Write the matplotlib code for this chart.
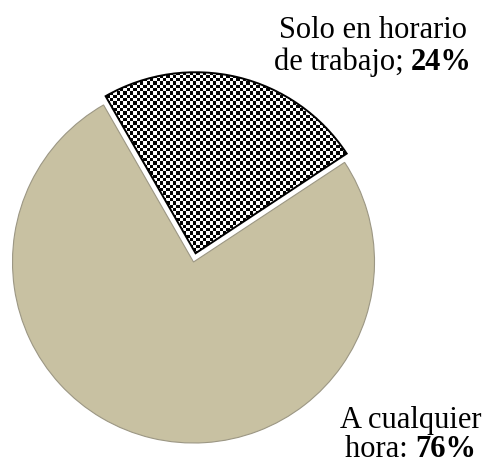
import numpy as np
import matplotlib
matplotlib.use("Agg")
import matplotlib.pyplot as plt

# Data
labels = ["Solo en horario de trabajo", "A cualquier hora"]
values = [24, 76]

BEIGE = "#c8c1a2"
EDGE = "#9c9784"
W, H = 488, 465
SERIF = ["Liberation Serif", "DejaVu Serif"]
FS = 22

fig = plt.figure(figsize=(W / 100, H / 100), dpi=100)
ax = fig.add_axes([0, 0, 1, 1])

# axes run in pixel units, so explode is given in pixels
cx, cy, r = 193.5, H - 262, 181
wedges, _ = ax.pie(values, startangle=33.4, counterclock=True,
                   explode=[9, 0], center=(cx, cy), radius=r,
                   colors=["white", BEIGE])
wedges[1].set_edgecolor(EDGE)
wedges[1].set_linewidth(0.8)

# small checkerboard fill for the 24% slice
cell = 3.33
nx, ny = int(W / cell) + 2, int(H / cell) + 2
ii, jj = np.meshgrid(np.arange(nx), np.arange(ny))
checker = ((ii + jj) % 2).astype(float)
im = ax.imshow(checker, cmap="gray", vmin=0, vmax=1, interpolation="nearest",
               extent=(0, nx * cell, 0, ny * cell), origin="lower", zorder=2)
im.set_clip_path(wedges[0])
wedges[0].set_facecolor("none")
wedges[0].set_edgecolor("black")
wedges[0].set_linewidth(1.4)
wedges[0].set_zorder(3)

ax.set_xlim(0, W)
ax.set_ylim(0, H)
ax.set_aspect("equal")
ax.axis("off")

renderer = fig.canvas.get_renderer()


def mixed_line(xc, ybase, normal, bold):
    t1 = ax.text(0, H - ybase, normal, family=SERIF, fontsize=FS,
                 va="baseline", ha="left")
    t2 = ax.text(0, H - ybase, bold, family=SERIF, fontsize=FS,
                 fontweight="bold", va="baseline", ha="left")
    w1 = t1.get_window_extent(renderer).width
    w2 = t2.get_window_extent(renderer).width
    x0 = xc - (w1 + w2) / 2
    t1.set_x(x0)
    t2.set_x(x0 + w1)


ax.text(373, H - 38, "Solo en horario", family=SERIF, fontsize=FS,
        va="baseline", ha="center")
mixed_line(373, 70, "de trabajo; ", f"{values[0]}%")

ax.text(411, H - 428, "A cualquier", family=SERIF, fontsize=FS,
        va="baseline", ha="center")
mixed_line(411, 457, "hora: ", f"{values[1]}%")

fig.savefig("out.png", dpi=100, facecolor="white")
